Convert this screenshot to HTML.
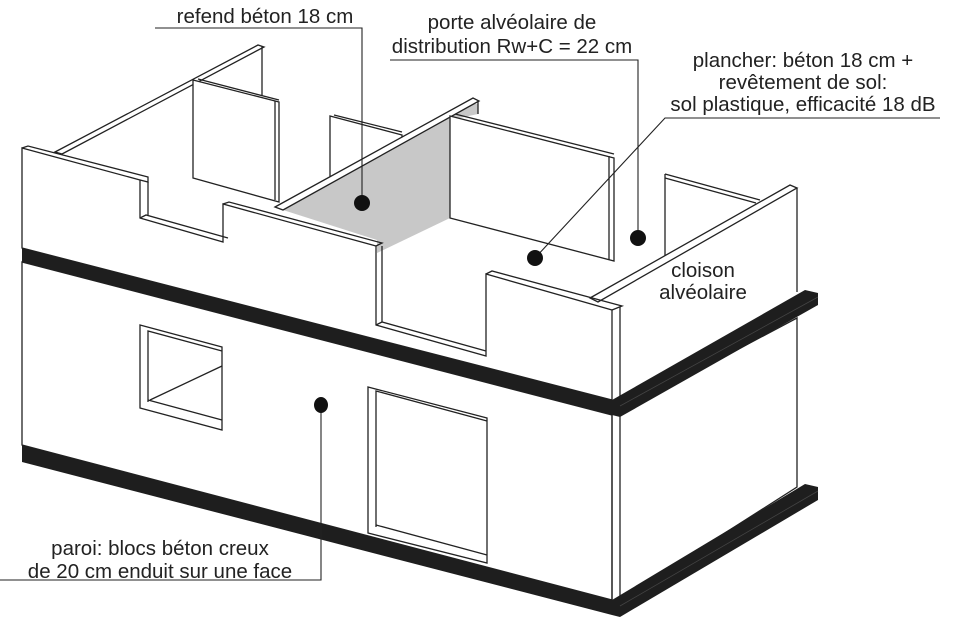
<!DOCTYPE html>
<html><head><meta charset="utf-8"><style>
html,body{margin:0;padding:0;background:#fff}
svg{display:block}
text{font-family:"Liberation Sans",Arial,sans-serif;font-size:20.5px;fill:#222}
</style></head><body>
<svg width="958" height="633" viewBox="0 0 958 633" xmlns="http://www.w3.org/2000/svg">
<g stroke="#222" stroke-width="1.3" fill="#fff" stroke-linejoin="miter">
<polygon points="55,152 258,45 264,47 62,154"/>
<line x1="262" y1="46" x2="262" y2="96"/>
<polygon points="193,80 279,102 279,202 193,178"/>
<line x1="198" y1="79" x2="279" y2="100"/>
<line x1="275" y1="101" x2="275" y2="200"/>
<polygon points="330,116 402,135 402,180 330,177"/>
<line x1="334" y1="115" x2="402" y2="132"/>
<polygon points="283,210 473,104 478,104 478,114 450,120 450,218 377,253 377,240" fill="#c8c8c8" stroke="none"/>
<polygon points="275,207 473,98 479,101 283,210"/>
<line x1="478" y1="101" x2="478" y2="114"/>
<polygon points="450,116 614,158 614,261 450,218"/>
<line x1="455" y1="114" x2="614" y2="154"/>
<line x1="609" y1="156" x2="609" y2="260"/>
<line x1="665" y1="174" x2="665" y2="292"/>
<polyline fill="none" points="665,174 760,200"/>
<line x1="665" y1="178" x2="756" y2="203"/>
<!-- right upper wall face -->
<polygon points="598,302 797,190 797,292 620,400 620,310" stroke="none"/>
<polygon points="590,298 790,185 797,188 598,302" fill="#fff"/>
<line x1="797" y1="188" x2="797" y2="292"/>
<!-- front upper wall -->
<polygon points="22,148 140,180 140,218 223,242 223,204 376,246 376,325 486,356 486,274 612,310 612,400 22,248"/>
<polyline fill="none" points="22,148 28,146 148,177 148,182 140,180"/>
<polyline fill="none" points="223,204 229,202 382,243 376,246"/>
<polyline fill="none" points="140,218 146,215 228,238"/>
<polyline fill="none" points="376,325 382,322 486,351"/>
<polyline fill="none" points="486,274 492,271 622,306 612,310"/>
<line x1="620" y1="307" x2="620" y2="400"/>
<line x1="148" y1="182" x2="148" y2="215"/>
<line x1="382" y1="246" x2="382" y2="322"/>
<polygon points="22,262 612,415 612,600 22,445"/>
<polygon points="620,412 797,318 797,487 620,600"/>
<line x1="612" y1="415" x2="612" y2="600"/>
<polygon points="140,325 222,347 222,430 140,408"/>
<polyline fill="none" points="148,402 148,331 222,351"/>
<line x1="148" y1="400" x2="222" y2="420"/>
<line x1="150" y1="400" x2="222" y2="366"/>
<polygon points="368,387 487,418 487,563 368,533"/>
<polyline fill="none" points="376,527 376,391 487,421"/>
<line x1="376" y1="525" x2="487" y2="555"/>
</g>
<g fill="#1e1e1e">
<polygon points="22,248 612,400 612,415 22,262"/>
<polygon points="612,400 805,290 818,293 818,305 620,417 612,415"/>
<polygon points="22,445 612,600 612,615 22,462"/>
<polygon points="612,600 805,484 818,487 818,500 620,617 612,615"/>
</g>
<g stroke="#444" stroke-width="0.8" fill="none">
<line x1="620" y1="406" x2="818" y2="297"/>
<line x1="620" y1="606" x2="818" y2="491"/>
</g>
<g stroke="#222" stroke-width="1.1" fill="none">
<polyline points="155,28 362,28 362,203"/>
<polyline points="390,60 638,60 638,238"/>
<polyline points="940,118 665,118 535,258"/>
<polyline points="321,405 321,580 0,580"/>
</g>
<g fill="#111">
<circle cx="362" cy="203" r="8"/>
<circle cx="638" cy="238" r="8"/>
<circle cx="535" cy="258" r="8"/>
<ellipse cx="321" cy="405" rx="7" ry="8"/>
</g>
<text x="265" y="23" text-anchor="middle">refend béton 18 cm</text>
<text x="512" y="29" text-anchor="middle">porte alvéolaire de</text>
<text x="512" y="53" text-anchor="middle">distribution Rw+C = 22 cm</text>
<text x="803" y="67" text-anchor="middle">plancher: béton 18 cm +</text>
<text x="803" y="89" text-anchor="middle">revêtement de sol:</text>
<text x="803" y="111" text-anchor="middle">sol plastique, efficacité 18 dB</text>
<text x="703" y="277" text-anchor="middle">cloison</text>
<text x="703" y="299" text-anchor="middle">alvéolaire</text>
<text x="160" y="555" text-anchor="middle">paroi: blocs béton creux</text>
<text x="160" y="578" text-anchor="middle">de 20 cm enduit sur une face</text>
</svg>
</body></html>
